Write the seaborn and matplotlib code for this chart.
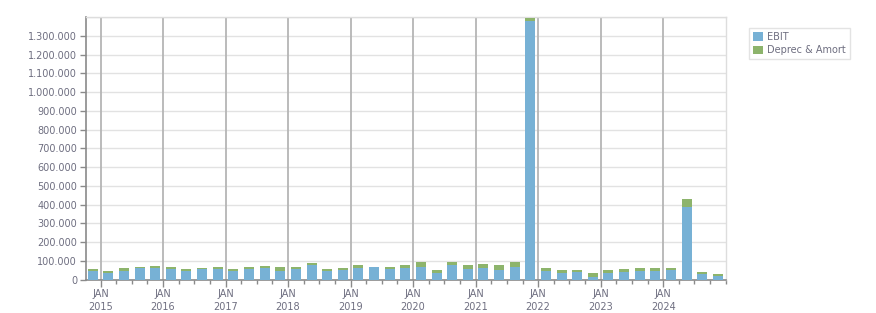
import matplotlib
matplotlib.use("Agg")
import matplotlib.pyplot as plt
from matplotlib.patches import Patch
from matplotlib.ticker import FixedLocator
import seaborn as sns
import pandas as pd

# ---- data (values in currency units) ----
quarters = ["Q4 2014",
            "Q1 2015", "Q2 2015", "Q3 2015", "Q4 2015",
            "Q1 2016", "Q2 2016", "Q3 2016", "Q4 2016",
            "Q1 2017", "Q2 2017", "Q3 2017", "Q4 2017",
            "Q1 2018", "Q2 2018", "Q3 2018", "Q4 2018",
            "Q1 2019", "Q2 2019", "Q3 2019", "Q4 2019",
            "Q1 2020", "Q2 2020", "Q3 2020", "Q4 2020",
            "Q1 2021", "Q2 2021", "Q3 2021", "Q4 2021",
            "Q1 2022", "Q2 2022", "Q3 2022", "Q4 2022",
            "Q1 2023", "Q2 2023", "Q3 2023", "Q4 2023",
            "Q1 2024", "Q2 2024", "Q3 2024", "Q4 2024"]
ebit = [46000,
        37000, 48000, 59000, 59000,
        54000, 48000, 56000, 54000,
        43000, 54000, 59000, 43000,
        54000, 76000, 43000, 53000,
        64000, 65000, 58000, 64000,
        67000, 33000, 80000, 58000,
        64000, 53000, 69000, 1380000,
        47000, 36000, 42000, 15000,
        36000, 42000, 47000, 47000,
        52000, 387000, 29000, 18000]
deprec = [8000,
          11000, 11000, 6000, 11000,
          11000, 6000, 3000, 11000,
          11000, 11000, 11000, 22000,
          11000, 11000, 11000, 11000,
          11000, 4000, 11000, 11000,
          24000, 20000, 16000, 17000,
          21000, 22000, 22000, 16000,
          17000, 17000, 11000, 22000,
          17000, 16000, 17000, 17000,
          10000, 43000, 10000, 10000]
year_labels = ["JAN\n2015", "JAN\n2016", "JAN\n2017", "JAN\n2018", "JAN\n2019",
               "JAN\n2020", "JAN\n2021", "JAN\n2022", "JAN\n2023", "JAN\n2024"]
y_ticks = [0, 100000, 200000, 300000, 400000, 500000, 600000, 700000,
           800000, 900000, 1000000, 1100000, 1200000, 1300000]

df = pd.DataFrame({"quarter": quarters, "EBIT": ebit, "Deprec": deprec})
df["Total"] = df["EBIT"] + df["Deprec"]

BLUE = "#77b1d5"
GREEN = "#8db46c"
TXT = "#6e6e80"

sns.set_style("white")
plt.rcParams["font.family"] = ["DejaVu Sans"]

fig = plt.figure(figsize=(8.76, 3.13), dpi=100)
ax = fig.add_axes([85.5 / 876, 1 - 279.5 / 313, (726 - 85.5) / 876, (279.5 - 17.3) / 313])

sns.barplot(data=df, x="quarter", y="Total", order=quarters, color=GREEN,
            saturation=1, width=0.64, ax=ax, edgecolor="none", linewidth=0,
            zorder=3)
sns.barplot(data=df, x="quarter", y="EBIT", order=quarters, color=BLUE,
            saturation=1, width=0.64, ax=ax, edgecolor="none", linewidth=0,
            zorder=4)

ax.set_xlim(-0.46, 40.52)
ax.set_ylim(0, 1400000)

# x ticks: January of each year sits between Q4 and Q1 bars
major = [0.5 + 4 * k for k in range(len(year_labels))]
minor = [i + 0.5 for i in range(-1, 41) if (i + 0.5) not in major and -0.46 < i + 0.5 < 40.52]
ax.set_xticks(major)
ax.set_xticklabels(year_labels, fontsize=7, color=TXT, linespacing=1.3)
ax.xaxis.set_minor_locator(FixedLocator(minor))
ax.tick_params(axis="x", which="major", length=5, width=1, color="#8a8a8a", pad=2, bottom=True)
ax.tick_params(axis="x", which="minor", length=3, width=1, color="#8a8a8a", bottom=True)

ax.set_yticks(y_ticks)
ax.set_yticklabels([f"{v:,.0f}".replace(",", ".") for v in y_ticks], fontsize=7, color=TXT)
ax.tick_params(axis="y", length=4, width=1, color="#8a8a8a", pad=2, left=True)

# grid
for yv in y_ticks[1:] + [1400000]:
    ax.axhline(yv, color="#e2e2e2", lw=1, zorder=0)
for xv in major:
    ax.axvline(xv, color="#b5b5b5", lw=1.3, zorder=1)

for side in ["left", "bottom"]:
    ax.spines[side].set_color("#8a8a8a")
    ax.spines[side].set_linewidth(1.2)
for side in ["top", "right"]:
    ax.spines[side].set_visible(True)
    ax.spines[side].set_color("#dddddd")
    ax.spines[side].set_linewidth(1)

ax.set_xlabel("")
ax.set_ylabel("")

handles = [Patch(facecolor=BLUE, edgecolor="none", label="EBIT"),
           Patch(facecolor=GREEN, edgecolor="none", label="Deprec & Amort")]
leg = fig.legend(handles=handles, loc="upper left",
                 bbox_to_anchor=(749 / 876, 1 - 28 / 313), fontsize=7,
                 frameon=True, fancybox=False, edgecolor="#dddddd",
                 handlelength=1.0, handleheight=1.0, handletextpad=0.45,
                 labelspacing=0.35, borderpad=0.4, borderaxespad=0)
leg.get_frame().set_linewidth(1)
for t in leg.get_texts():
    t.set_color(TXT)

fig.savefig("out.png", dpi=100)
